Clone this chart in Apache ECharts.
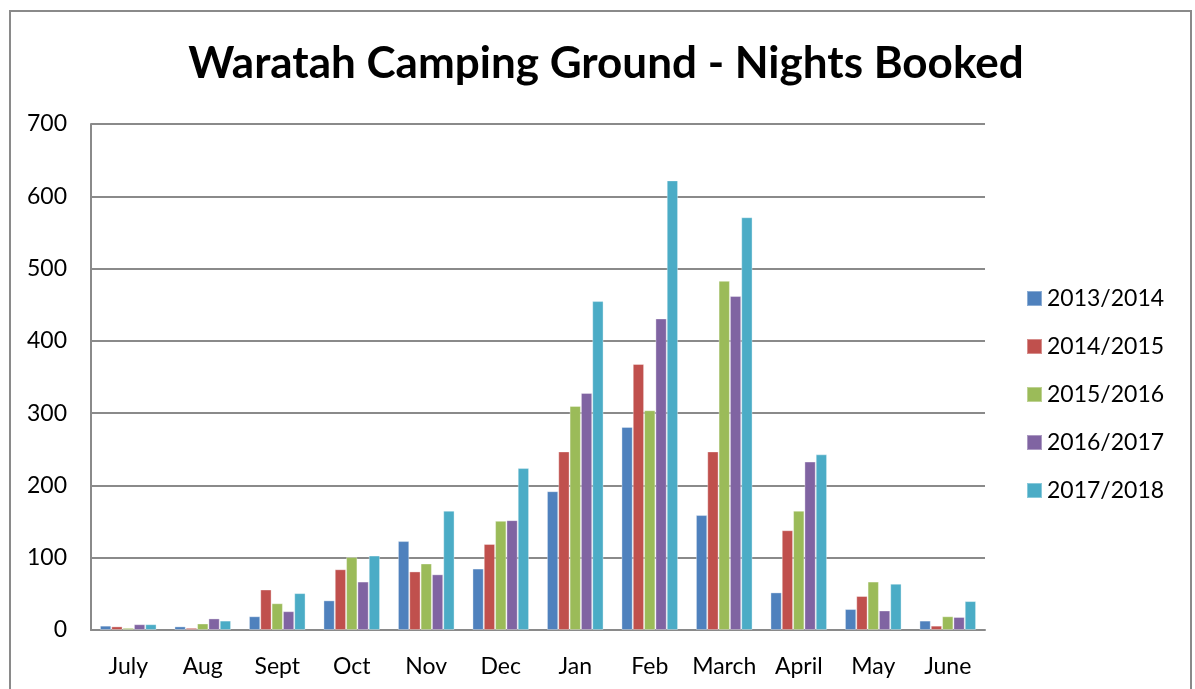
<!DOCTYPE html>
<html>
<head>
<meta charset="utf-8">
<script src="https://cdn.jsdelivr.net/npm/echarts@6/dist/echarts.min.js"></script>
<style>
  html, body { margin: 0; padding: 0; background: #fff; }
  #chart { width: 1195px; height: 689px; }
</style>
</head>
<body>
<div id="chart"></div>
<script>
// Months of the booking year (July to June)
const months = ['July', 'Aug', 'Sept', 'Oct', 'Nov', 'Dec', 'Jan', 'Feb', 'March', 'April', 'May', 'June'];

// Nights booked per month, one array per season
const s2013_2014 = [6, 5, 19, 41, 123, 85, 192, 281, 159, 52, 29, 13];
const s2014_2015 = [5, 3, 56, 84, 81, 119, 247, 368, 247, 138, 47, 6];
const s2015_2016 = [3, 9, 37, 101, 92, 151, 310, 304, 483, 165, 67, 19];
const s2016_2017 = [8, 16, 26, 67, 77, 152, 328, 431, 462, 233, 27, 18];
const s2017_2018 = [8, 13, 51, 103, 165, 224, 455, 622, 571, 243, 64, 40];

const seasons = ['2013/2014', '2014/2015', '2015/2016', '2016/2017', '2017/2018'];
const seasonValues = [s2013_2014, s2014_2015, s2015_2016, s2016_2017, s2017_2018];
const seasonColors = ['#4F81BD', '#C0504D', '#9BBB59', '#8064A2', '#4BACC6'];

const FONT = 'Lato, "Open Sans", sans-serif';
const lineGray = '#8a8a8a';

const chart = echarts.init(document.getElementById('chart'), null, { renderer: 'canvas' });

chart.setOption({
  animation: false,
  backgroundColor: '#ffffff',
  color: seasonColors,
  title: {
    text: 'Waratah Camping Ground - Nights Booked',
    left: 601,
    textAlign: 'center',
    top: 37,
    textStyle: { fontFamily: FONT, fontWeight: 'bold', fontSize: 44, color: '#000' }
  },
  graphic: [{
    type: 'rect',
    shape: { x: 10, y: 11, width: 1181, height: 700 },
    style: { fill: 'none', stroke: lineGray, lineWidth: 2 },
    silent: true
  }],
  legend: {
    orient: 'vertical',
    left: 1021,
    top: 282,
    itemWidth: 15,
    itemHeight: 15,
    itemGap: 25,
    icon: 'rect',
    data: seasons,
    textStyle: { fontFamily: FONT, fontSize: 23, color: '#000', lineHeight: 23 }
  },
  grid: { left: 91, right: 210, top: 124, bottom: 59, containLabel: false },
  xAxis: {
    type: 'category',
    data: months,
    axisLine: { lineStyle: { color: lineGray, width: 2 } },
    axisTick: { show: false },
    axisLabel: { interval: 0, fontFamily: FONT, fontSize: 23, color: '#000', margin: 25 }
  },
  yAxis: {
    type: 'value',
    min: 0,
    max: 700,
    interval: 100,
    axisLine: { show: true, lineStyle: { color: lineGray, width: 2 } },
    axisTick: { show: false },
    splitLine: { lineStyle: { color: lineGray, width: 2 } },
    axisLabel: { fontFamily: FONT, fontSize: 23, color: '#000', margin: 24 }
  },
  series: seasons.map((name, i) => ({
    name: name,
    type: 'bar',
    data: seasonValues[i],
    barGap: '0%',
    barCategoryGap: '24%',
    itemStyle: { color: seasonColors[i], borderColor: 'rgba(255,255,255,0.35)', borderWidth: 1 }
  }))
});
</script>
</body>
</html>
